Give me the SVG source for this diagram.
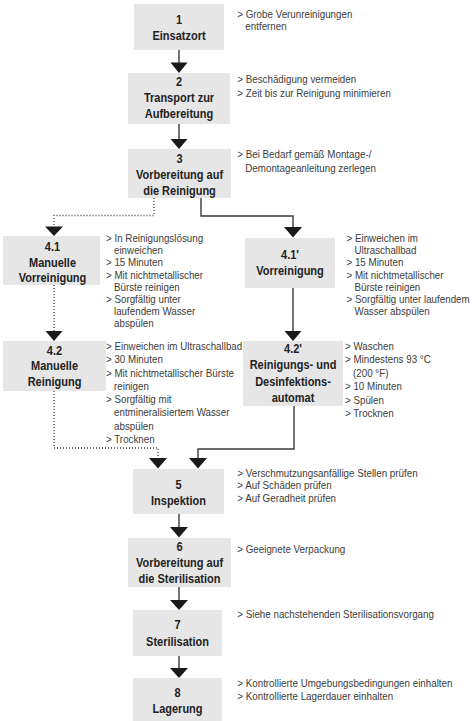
<svg xmlns="http://www.w3.org/2000/svg" width="473" height="721" viewBox="0 0 473 721">
<style>
.box{fill:#e6e6e6}
.t{font-family:"Liberation Sans",Arial,sans-serif;font-weight:bold;font-size:12px;fill:#222;text-anchor:middle}
.a{font-family:"Liberation Sans",Arial,sans-serif;font-size:11px;fill:#3c3c3c}
.c{fill:none;stroke:#3a3a3a;stroke-width:1.4}
.d{fill:none;stroke:#444;stroke-width:1.3;stroke-dasharray:1 2}
.h{fill:#1a1a1a}
</style>
<rect width="473" height="721" fill="#fff"/>
<g id="connectors">
<path class="c" d="M179 50V63"/><polygon class="h" points="170.5,62.5 187.5,62.5 179,73"/>
<path class="c" d="M179 124V139"/><polygon class="h" points="170.5,139 187.5,139 179,149"/>
<path class="d" d="M154 198V215.5H54V227"/><polygon class="h" points="45,226.5 63,226.5 54,236"/>
<path class="c" d="M201 198V216H293V227"/><polygon class="h" points="284,227 302,227 293,237.5"/>
<path class="d" d="M54 285V331"/><polygon class="h" points="45.5,331 62.5,331 54,341"/>
<path class="c" d="M293 288V331"/><polygon class="h" points="284.5,331 301.5,331 293,341"/>
<path class="d" d="M54 391V448H158V458"/><polygon class="h" points="149,458 167,458 158,468.5"/>
<path class="c" d="M294 406V449H198V458"/><polygon class="h" points="189,458 207,458 198,468.5"/>
<path class="c" d="M179 514V527"/><polygon class="h" points="170,527 188,527 179,537.5"/>
<path class="c" d="M179 587V600"/><polygon class="h" points="170,600 188,600 179,610"/>
<path class="c" d="M179 656V668"/><polygon class="h" points="170,668 188,668 179,678"/>
</g>
<g id="n1">
<rect class="box" x="134" y="4" width="90" height="46"/>
<g transform="translate(179,0) scale(0.917,1)"><text class="t" y="24.5">1</text><text class="t" y="40.5">Einsatzort</text></g>
<g transform="translate(237.3,0) scale(0.89,1)"><text class="a" y="18">&gt; Grobe Verunreinigungen</text><text class="a" x="9" y="30">entfernen</text></g>
</g>
<g id="n2">
<rect class="box" x="128" y="73" width="102" height="51"/>
<g transform="translate(179,0) scale(0.917,1)"><text class="t" y="86.5">2</text><text class="t" y="102.5">Transport zur</text><text class="t" y="118.5">Aufbereitung</text></g>
<g transform="translate(237.3,0) scale(0.89,1)"><text class="a" y="83.3">&gt; Beschädigung vermeiden</text><text class="a" y="96.7">&gt; Zeit bis zur Reinigung minimieren</text></g>
</g>
<g id="n3">
<rect class="box" x="128" y="149" width="103" height="49"/>
<g transform="translate(179.5,0) scale(0.917,1)"><text class="t" y="163">3</text><text class="t" y="179">Vorbereitung auf</text><text class="t" y="195">die Reinigung</text></g>
<g transform="translate(237.3,0) scale(0.89,1)"><text class="a" y="158.5">&gt; Bei Bedarf gemäß Montage-/</text><text class="a" x="9" y="171.7">Demontageanleitung zerlegen</text></g>
</g>
<g id="n4-1">
<rect class="box" x="3" y="236" width="97" height="49"/>
<g transform="translate(52.5,0) scale(0.917,1)"><text class="t" y="251.5">4.1</text><text class="t" y="267">Manuelle</text><text class="t" y="282.5">Vorreinigung</text></g>
<g transform="translate(106,0) scale(0.89,1)">
<text class="a" y="242">&gt; In Reinigungslösung</text>
<text class="a" x="9" y="254.2">einweichen</text>
<text class="a" y="266.4">&gt; 15 Minuten</text>
<text class="a" y="278.6">&gt; Mit nichtmetallischer</text>
<text class="a" x="9" y="290.8">Bürste reinigen</text>
<text class="a" y="303">&gt; Sorgfältig unter</text>
<text class="a" x="9" y="315.2">laufendem Wasser</text>
<text class="a" x="9" y="327.4">abspülen</text>
</g>
</g>
<g id="n4-1p">
<rect class="box" x="245" y="238" width="90" height="50"/>
<g transform="translate(290,0) scale(0.917,1)"><text class="t" y="259.5">4.1'</text><text class="t" y="275">Vorreinigung</text></g>
<g transform="translate(346.5,0) scale(0.89,1)">
<text class="a" y="242">&gt; Einweichen im</text>
<text class="a" x="9" y="254.2">Ultraschallbad</text>
<text class="a" y="266.4">&gt; 15 Minuten</text>
<text class="a" y="278.6">&gt; Mit nichtmetallischer</text>
<text class="a" x="9" y="290.8">Bürste reinigen</text>
<text class="a" y="303">&gt; Sorgfältig unter laufendem</text>
<text class="a" x="9" y="315.2">Wasser abspülen</text>
</g>
</g>
<g id="n4-2">
<rect class="box" x="3" y="341" width="103" height="50"/>
<g transform="translate(54.5,0) scale(0.917,1)"><text class="t" y="355">4.2</text><text class="t" y="370.5">Manuelle</text><text class="t" y="386">Reinigung</text></g>
<g transform="translate(106,0) scale(0.89,1)">
<text class="a" y="350">&gt; Einweichen im Ultraschallbad</text>
<text class="a" y="363.3">&gt; 30 Minuten</text>
<text class="a" y="376.6">&gt; Mit nichtmetallischer Bürste</text>
<text class="a" x="9" y="389.9">reinigen</text>
<text class="a" y="403.2">&gt; Sorgfältig mit</text>
<text class="a" x="9" y="416.5">entmineralisiertem Wasser</text>
<text class="a" x="9" y="429.8">abspülen</text>
<text class="a" y="443.1">&gt; Trocknen</text>
</g>
</g>
<g id="n4-2p">
<rect class="box" x="243" y="341" width="100" height="65"/>
<g transform="translate(293,0) scale(0.917,1)"><text class="t" y="353.5">4.2'</text><text class="t" y="369.5">Reinigungs- und</text><text class="t" y="386">Desinfektions-</text><text class="t" y="402.5">automat</text></g>
<g transform="translate(345,0) scale(0.89,1)">
<text class="a" y="350">&gt; Waschen</text>
<text class="a" y="363.4">&gt; Mindestens 93 °C</text>
<text class="a" x="9" y="376.8">(200 °F)</text>
<text class="a" y="390.2">&gt; 10 Minuten</text>
<text class="a" y="403.6">&gt; Spülen</text>
<text class="a" y="417">&gt; Trocknen</text>
</g>
</g>
<g id="n5">
<rect class="box" x="133" y="469" width="91" height="45"/>
<g transform="translate(178.5,0) scale(0.917,1)"><text class="t" y="489.5">5</text><text class="t" y="505">Inspektion</text></g>
<g transform="translate(237.3,0) scale(0.89,1)"><text class="a" y="477">&gt; Verschmutzungsanfällige Stellen prüfen</text><text class="a" y="489.5">&gt; Auf Schäden prüfen</text><text class="a" y="502">&gt; Auf Geradheit prüfen</text></g>
</g>
<g id="n6">
<rect class="box" x="128" y="538" width="103" height="49"/>
<g transform="translate(179.5,0) scale(0.917,1)"><text class="t" y="551">6</text><text class="t" y="567">Vorbereitung auf</text><text class="t" y="583">die Sterilisation</text></g>
<g transform="translate(237.3,0) scale(0.89,1)"><text class="a" y="553.5">&gt; Geeignete Verpackung</text></g>
</g>
<g id="n7">
<rect class="box" x="133" y="610" width="89" height="46"/>
<g transform="translate(177.5,0) scale(0.917,1)"><text class="t" y="629.5">7</text><text class="t" y="646">Sterilisation</text></g>
<g transform="translate(237.3,0) scale(0.89,1)"><text class="a" y="618.5">&gt; Siehe nachstehenden Sterilisationsvorgang</text></g>
</g>
<g id="n8">
<rect class="box" x="133" y="678" width="89" height="43"/>
<g transform="translate(177.5,0) scale(0.917,1)"><text class="t" y="697.5">8</text><text class="t" y="713">Lagerung</text></g>
<g transform="translate(237.3,0) scale(0.89,1)"><text class="a" y="687">&gt; Kontrollierte Umgebungsbedingungen einhalten</text><text class="a" y="700">&gt; Kontrollierte Lagerdauer einhalten</text></g>
</g>
</svg>
